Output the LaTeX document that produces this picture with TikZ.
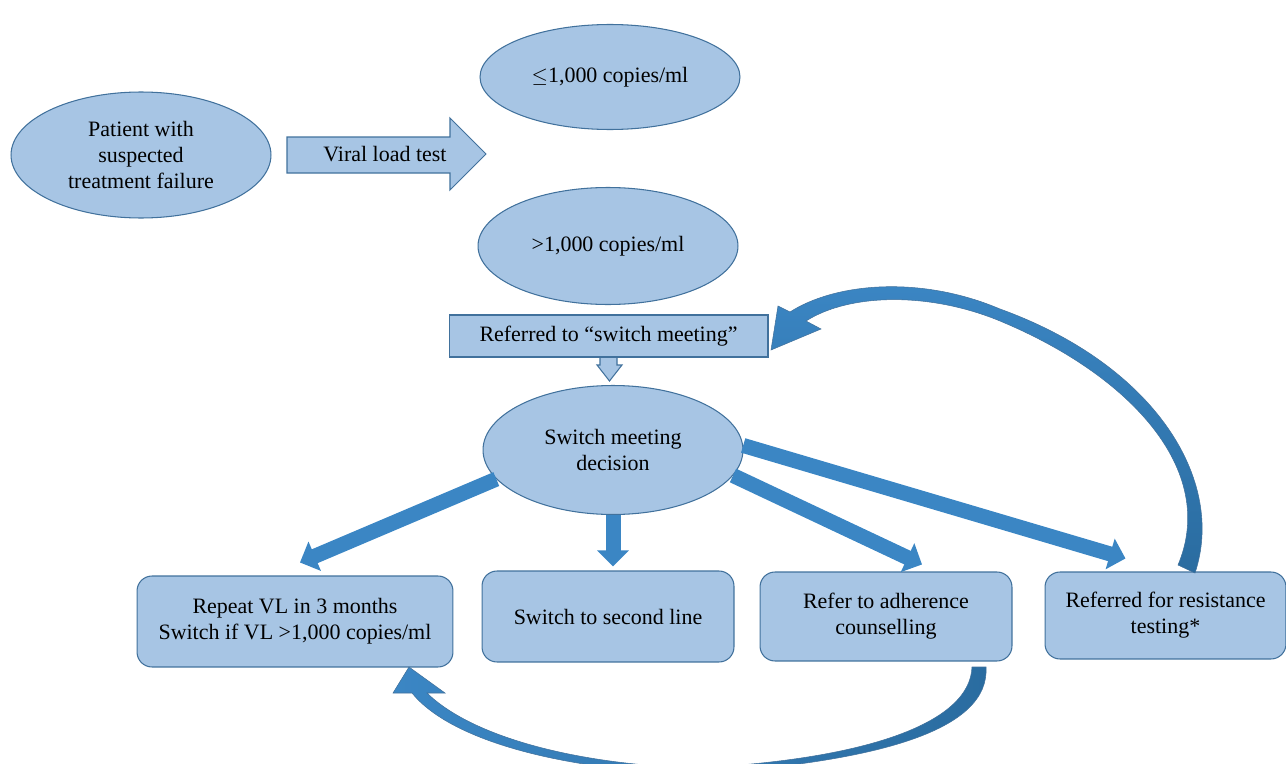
\documentclass[tikz,border=0pt]{standalone}
\usepackage{fontspec}
\setmainfont{Liberation Serif}
\usetikzlibrary{shapes.geometric,arrows.meta,calc}
\definecolor{lightfill}{HTML}{A7C5E4}
\definecolor{edgeblue}{HTML}{41719C}
\definecolor{arrowblue}{HTML}{3B86C4}
\definecolor{arrowdark}{HTML}{2A6CA0}
\newcommand\myfs{\fontsize{12.5}{14.8}\selectfont}
\begin{document}
\begin{tikzpicture}[x=0.02cm,y=-0.02cm,
  ell/.style={ellipse, draw=edgeblue, fill=lightfill, line width=0.6pt, align=center, font=\myfs, inner sep=0pt},
  rbox/.style={rectangle, rounded corners=0.3cm, draw=edgeblue, fill=lightfill, line width=0.6pt, align=center, font=\myfs, inner sep=0pt},
  sbox/.style={rectangle, draw=edgeblue, fill=lightfill, line width=0.6pt, align=center, font=\myfs, inner sep=0pt},
  lshape/.style={draw=edgeblue, fill=lightfill, line width=0.6pt},
  flow/.style={draw=arrowblue, line width=0.3cm, -{Triangle[length=0.32cm,width=0.62cm]}},
  curvearrow/.style={draw=edgeblue, line width=0.3pt}
]
\useasboundingbox (0,0) rectangle (1286,764);
\clip (0,0) rectangle (1286,764);

% nodes
\node[ell, minimum width=5.2cm, minimum height=2.52cm] (pat) at (141,155) {Patient with\\suspected\\treatment failure};
\node[ell, minimum width=5.2cm, minimum height=2.1cm] (low) at (610,77) {$\leq$1,000 copies/ml};
\node[ell, minimum width=5.2cm, minimum height=2.34cm] (high) at (608,246) {>1,000 copies/ml};

% viral load block arrow
\path[lshape] (287,137) -- (450,137) -- (450,118) -- (486,154) -- (450,190) -- (450,173) -- (287,173) -- cycle;
\node[font=\myfs] (vlt) at (385,154) {Viral load test};

% referred box with callout
\path[lshape] (600,350) -- (600,365) -- (597,365) -- (609.5,381) -- (622,365) -- (617,365) -- (617,350);
\node[sbox, minimum width=6.38cm, minimum height=0.84cm] (ref) at (608.5,336) {Referred to “switch meeting”};

\node[ell, minimum width=5.2cm, minimum height=2.58cm] (dec) at (613,450) {Switch meeting\\decision};

\node[rbox, minimum width=6.32cm, minimum height=1.82cm] (rep) at (295,621.5) {Repeat VL in 3 months\\Switch if VL >1,000 copies/ml};
\node[rbox, minimum width=5.04cm, minimum height=1.82cm] (sw2) at (608,616.5) {Switch to second line};
\node[rbox, minimum width=5.04cm, minimum height=1.78cm] (adh) at (886,616.5) {Refer to adherence\\counselling};
\node[rbox, minimum width=4.82cm, minimum height=1.74cm] (res) at (1165.5,615.5) {Referred for resistance\\testing*};

% straight block arrows
\draw[flow] (dec.194) -- ($(rep.north)+(5,-13)$);
\draw[flow] (dec.south) -- ($(sw2.north)+(5,-4)$);
\draw[flow] (dec.348) -- ($(adh.north)+(36,-7)$);
\draw[flow] (dec.2) -- ($(res.north)+(-40,-13)$);

% curved arrow: resistance testing -> switch meeting
\path[curvearrow, top color=arrowblue, bottom color=arrowdark]
  (1195,573) .. controls (1226,480) and (1155,365) .. (1000,309)
  .. controls (920,275) and (835,283) .. (790,312)
  -- (778,306) -- (771,350) -- (821,329) -- (806,321)
  .. controls (850,293) and (930,292) .. (1000,321)
  .. controls (1130,375) and (1218,470) .. (1178,565) -- cycle;

% curved arrow: adherence -> repeat VL
\path[curvearrow, left color=arrowblue, right color=arrowdark]
  (986,667) .. controls (990,730) and (880,762) .. (695,774)
  .. controls (560,770) and (450,740) .. (412,693)
  -- (393,693) -- (409,667) -- (445,693) -- (427,693)
  .. controls (470,735) and (570,764) .. (695,768)
  .. controls (860,760) and (970,725) .. (972,667) -- cycle;
\end{tikzpicture}
\end{document}
